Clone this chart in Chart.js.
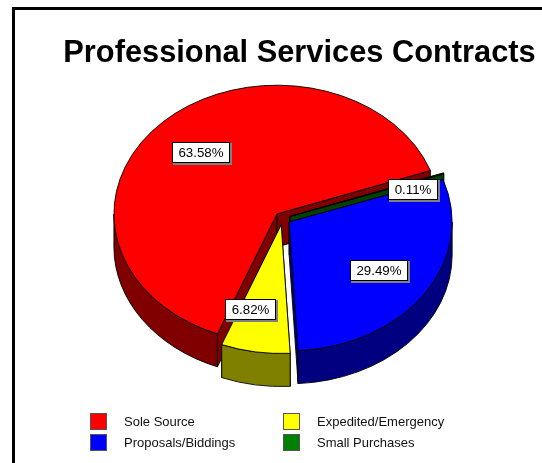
<!DOCTYPE html>
<html>
<head>
<meta charset="utf-8">
<title>Professional Services Contracts</title>
<script src="https://cdn.jsdelivr.net/npm/chart.js@4"></script>
<style>
  html, body { margin: 0; padding: 0; background: #fff; overflow: hidden; }
  #frame { position: absolute; left: 12px; top: 7px; right: 0; bottom: 0; border-left: 3px solid #000; border-top: 3px solid #000; }
  #pie { position: absolute; left: 0; top: 0; }
</style>
</head>
<body>
<div id="frame"></div>
<canvas id="pie" width="542" height="463"></canvas>
<script>
  const TITLE = 'Professional Services Contracts';
  // Legend order; slices run the other way round the pie
  const CATEGORIES = ['Sole Source', 'Expedited/Emergency', 'Proposals/Biddings', 'Small Purchases'];
  const SHARES = [63.58, 6.82, 29.49, 0.11];
  const TOP_COLORS = ['#ff0000', '#ffff00', '#0000ff', '#008000'];
  const WALL_COLORS = ['#800000', '#808000', '#000080', '#004000'];

  const FONT = '"Liberation Sans", Arial, sans-serif';

  // Pie geometry on the canvas
  const PIE_X = 282.5, PIE_Y = 218.5;
  const RADIUS = 163, TILT = 0.79, DEPTH = 33, EXPLODE = 8;

  const clockwise = arr => arr.slice().reverse();

  // Pie with a squashed top face, extruded walls and every slice pulled out
  class TiltedPieController extends Chart.PieController {
    draw() {
      const ctx = this.chart.ctx;
      const arcs = this.getMeta().data;
      const colors = this.getDataset().wallColor;
      const { x, y } = arcs[0];
      ctx.save();
      ctx.translate(PIE_X, PIE_Y);
      ctx.scale(1, TILT);
      ctx.translate(-x, -y);
      // back to front: sole source, small purchases, expedited, proposals
      [3, 0, 2, 1].forEach(i => {
        const arc = arcs[i];
        const mid = (arc.startAngle + arc.endAngle) / 2;
        ctx.save();
        ctx.translate(Math.cos(mid) * EXPLODE, Math.sin(mid) * EXPLODE);
        drawWalls(ctx, arc, colors[i]);
        arc.draw(ctx);
        ctx.restore();
      });
      ctx.restore();
    }
  }
  TiltedPieController.id = 'tiltedPie';
  TiltedPieController.defaults = Chart.PieController.defaults;
  TiltedPieController.overrides = Chart.PieController.overrides;
  Chart.register(TiltedPieController);

  function drawWalls(ctx, arc, color) {
    const { x, y, startAngle, endAngle, outerRadius: r } = arc;
    const drop = DEPTH / TILT;
    ctx.fillStyle = color;
    ctx.strokeStyle = '#000';
    ctx.lineWidth = 1;
    // the two cut faces
    [startAngle, endAngle].forEach(a => {
      const ex = x + Math.cos(a) * r, ey = y + Math.sin(a) * r;
      ctx.beginPath();
      ctx.moveTo(x, y);
      ctx.lineTo(ex, ey);
      ctx.lineTo(ex, ey + drop);
      ctx.lineTo(x, y + drop);
      ctx.closePath();
      ctx.fill();
      ctx.stroke();
    });
    // outer rim, front half only
    const from = Math.max(startAngle, 0), to = Math.min(endAngle, Math.PI);
    if (to > from) {
      ctx.beginPath();
      ctx.arc(x, y, r, from, to);
      ctx.arc(x, y + drop, r, to, from, true);
      ctx.closePath();
      ctx.fill();
      ctx.stroke();
    }
  }

  // White value boxes on the slices
  const valueBoxes = {
    id: 'valueBoxes',
    afterDatasetsDraw(chart, args, opts) {
      const { ctx } = chart;
      const arcs = chart.getDatasetMeta(0).data;
      const values = chart.data.datasets[0].data;
      ctx.save();
      ctx.font = '13.3px ' + FONT;
      ctx.textAlign = 'center';
      ctx.textBaseline = 'middle';
      arcs.forEach((arc, i) => {
        const mid = (arc.startAngle + arc.endAngle) / 2;
        const dist = EXPLODE + RADIUS * opts.reach[i];
        const cx = PIE_X + Math.cos(mid) * dist + opts.shiftX[i];
        const cy = PIE_Y + Math.sin(mid) * dist * TILT + opts.shiftY[i];
        const text = values[i].toFixed(2) + '%';
        const w = Math.round(ctx.measureText(text).width) + 13, h = 21;
        const left = Math.round(cx - w / 2), top = Math.round(cy - h / 2);
        ctx.fillStyle = '#808080';
        ctx.fillRect(left + 1, top + 1, w + 1, h + 1);
        ctx.fillStyle = '#fff';
        ctx.strokeStyle = '#000';
        ctx.lineWidth = 1;
        ctx.fillRect(left, top, w, h);
        ctx.strokeRect(left + 0.5, top + 0.5, w - 1, h - 1);
        ctx.fillStyle = '#000';
        ctx.fillText(text, left + w / 2, top + h / 2 + 0.5);
      });
      ctx.restore();
    },
  };

  // Two column legend below the pie
  const swatchLegend = {
    id: 'swatchLegend',
    afterDraw(chart) {
      const { ctx } = chart;
      ctx.save();
      ctx.font = '13px ' + FONT;
      ctx.textBaseline = 'middle';
      ctx.textAlign = 'left';
      CATEGORIES.forEach((name, i) => {
        const x = i % 2 === 0 ? 90 : 283;
        const y = i < 2 ? 413 : 434;
        ctx.fillStyle = TOP_COLORS[i];
        ctx.fillRect(x, y, 17, 17);
        ctx.strokeStyle = '#555';
        ctx.lineWidth = 1;
        ctx.strokeRect(x + 0.5, y + 0.5, 16, 16);
        ctx.fillStyle = '#111';
        ctx.fillText(name, x + 34, y + 9);
      });
      ctx.restore();
    },
  };

  new Chart(document.getElementById('pie'), {
    type: 'tiltedPie',
    data: {
      labels: clockwise(CATEGORIES),
      datasets: [{
        data: clockwise(SHARES),
        backgroundColor: clockwise(TOP_COLORS),
        wallColor: clockwise(WALL_COLORS),
        borderColor: '#000',
        borderWidth: 1,
        clip: false,
      }],
    },
    options: {
      responsive: false,
      animation: false,
      rotation: 70.3,
      radius: RADIUS,
      layout: { padding: { left: 57 } },
      plugins: {
        legend: { display: false },
        tooltip: { enabled: false },
        title: {
          display: true,
          text: TITLE,
          color: '#000',
          font: { family: FONT, size: 30.8, weight: 'bold' },
          padding: { top: 35, bottom: 4 },
        },
        valueBoxes: {
          reach: [0.8, 0.67, 0.67, 0.67],
          shiftX: [0, -1, -13, 0],
          shiftY: [8, 1, 0, 0],
        },
      },
    },
    plugins: [valueBoxes, swatchLegend],
  });
</script>
</body>
</html>
